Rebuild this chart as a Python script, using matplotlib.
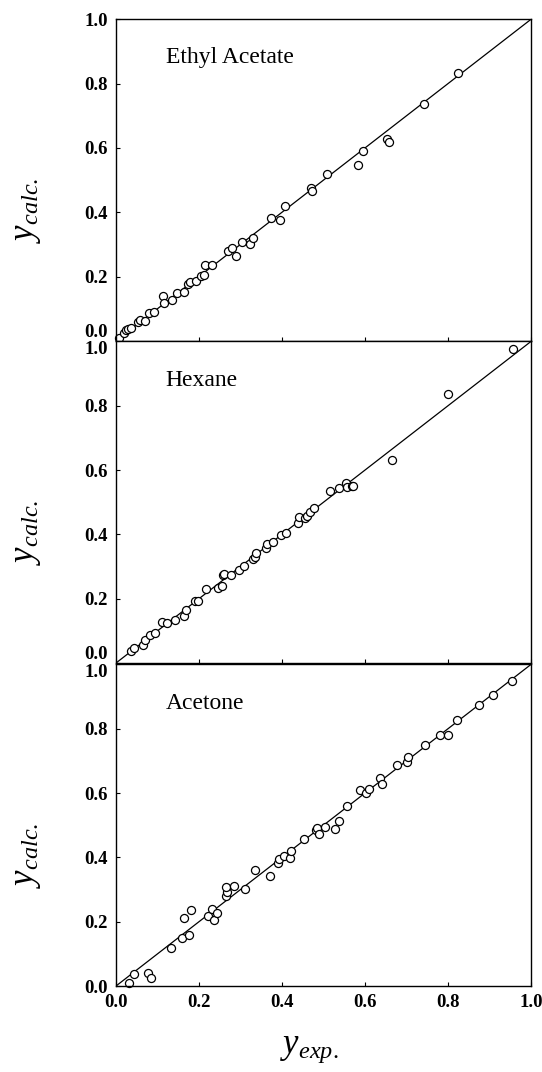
import numpy as np
import matplotlib
matplotlib.use('Agg')
import matplotlib.pyplot as plt

ea_exp = [0.008, 0.020, 0.025, 0.030, 0.036, 0.054, 0.057, 0.070, 0.080, 0.092,
          0.114, 0.115, 0.135, 0.146, 0.163, 0.173, 0.178, 0.193, 0.205, 0.214,
          0.213, 0.231, 0.269, 0.280, 0.289, 0.303, 0.323, 0.329, 0.374, 0.396,
          0.408, 0.469, 0.473, 0.509, 0.582, 0.595, 0.652, 0.658, 0.742, 0.824]
ea_calc = [0.010, 0.026, 0.034, 0.036, 0.040, 0.059, 0.065, 0.062, 0.086, 0.090,
           0.140, 0.119, 0.127, 0.149, 0.153, 0.178, 0.182, 0.186, 0.203, 0.237,
           0.206, 0.236, 0.278, 0.290, 0.264, 0.307, 0.302, 0.319, 0.383, 0.376,
           0.420, 0.475, 0.467, 0.519, 0.547, 0.589, 0.628, 0.617, 0.737, 0.832]

hex_exp = [0.036, 0.043, 0.064, 0.069, 0.083, 0.095, 0.112, 0.124, 0.143, 0.163,
           0.169, 0.190, 0.198, 0.218, 0.247, 0.255, 0.257, 0.260, 0.276, 0.296,
           0.309, 0.329, 0.334, 0.338, 0.361, 0.364, 0.378, 0.398, 0.410, 0.439,
           0.441, 0.455, 0.460, 0.467, 0.478, 0.515, 0.537, 0.554, 0.556, 0.568,
           0.572, 0.664, 0.799, 0.957]
hex_calc = [0.038, 0.047, 0.057, 0.071, 0.086, 0.094, 0.127, 0.124, 0.135, 0.146,
            0.164, 0.192, 0.192, 0.230, 0.234, 0.239, 0.274, 0.276, 0.275, 0.290,
            0.302, 0.322, 0.330, 0.343, 0.357, 0.369, 0.377, 0.397, 0.404, 0.436,
            0.454, 0.452, 0.457, 0.471, 0.482, 0.535, 0.543, 0.561, 0.548, 0.549,
            0.551, 0.631, 0.835, 0.977]

ac_exp = [0.031, 0.043, 0.076, 0.085, 0.132, 0.159, 0.177, 0.165, 0.180, 0.222,
          0.237, 0.232, 0.244, 0.265, 0.268, 0.265, 0.284, 0.311, 0.336, 0.371,
          0.390, 0.392, 0.405, 0.420, 0.422, 0.452, 0.482, 0.484, 0.490, 0.504,
          0.527, 0.537, 0.557, 0.587, 0.603, 0.610, 0.636, 0.640, 0.677, 0.702,
          0.704, 0.745, 0.780, 0.800, 0.821, 0.875, 0.909, 0.955]
ac_calc = [0.010, 0.038, 0.040, 0.026, 0.119, 0.149, 0.160, 0.211, 0.235, 0.219,
           0.205, 0.239, 0.228, 0.279, 0.293, 0.308, 0.312, 0.301, 0.360, 0.343,
           0.384, 0.395, 0.403, 0.399, 0.420, 0.458, 0.484, 0.490, 0.472, 0.493,
           0.487, 0.513, 0.560, 0.609, 0.601, 0.612, 0.647, 0.627, 0.688, 0.696,
           0.712, 0.748, 0.779, 0.781, 0.826, 0.873, 0.905, 0.950]

names = ['Ethyl Acetate', 'Hexane', 'Acetone']
ticks = [0.0, 0.2, 0.4, 0.6, 0.8, 1.0]
tick_labels = ['0.0', '0.2', '0.4', '0.6', '0.8', '1.0']

plt.rcParams['font.family'] = ['Liberation Serif', 'DejaVu Serif']
plt.rcParams['mathtext.fontset'] = 'custom'
plt.rcParams['mathtext.it'] = 'Liberation Serif:italic'
plt.rcParams['mathtext.rm'] = 'Liberation Serif'

fig = plt.figure(figsize=(5.42, 10.72), dpi=100)

left, width, height = 0.214, 0.7657, 0.300
bottoms = [0.682, 0.3815, 0.0802]
data = [(ea_exp, ea_calc), (hex_exp, hex_calc), (ac_exp, ac_calc)]

for i, (name, (xe, yc)) in enumerate(zip(names, data)):
    ax = fig.add_axes([left, bottoms[i], width, height])
    ax.plot([0, 1], [0, 1], color='black', lw=0.9)
    ax.plot(xe, yc, 'o', mfc='white', mec='black', ms=5.8, mew=0.9,
            clip_on=False)
    ax.set_xlim(0, 1)
    ax.set_ylim(0, 1)
    ax.set_yticks(ticks)
    ax.set_yticklabels(tick_labels, fontsize=13.5, fontweight='bold')
    ax.set_xticks(ticks)
    if i == 2:
        ax.set_xticklabels(tick_labels, fontsize=13.5, fontweight='bold')
    else:
        ax.set_xticklabels([])
    ax.tick_params(direction='in', length=3, width=0.8, pad=6)
    # keep stacked edge labels apart, as in the original
    ylabs = ax.get_yticklabels()
    if i < 2:
        ylabs[0].set_va('bottom')
    if i > 0:
        ylabs[-1].set_va('top')
    for s in ax.spines.values():
        s.set_linewidth(1.0)
    ax.text(0.12, 0.88, name, fontsize=17, va='center', ha='left',
            transform=ax.transAxes)
    ax.text(-0.215, 0.405, r'$y_{calc.}$', fontsize=25, rotation=90,
            ha='center', va='center', transform=ax.transAxes)

fig.text(0.57, 0.022, r'$y_{exp.}$', fontsize=25, ha='center', va='center')

plt.savefig('out.png', dpi=100)
plt.close()
